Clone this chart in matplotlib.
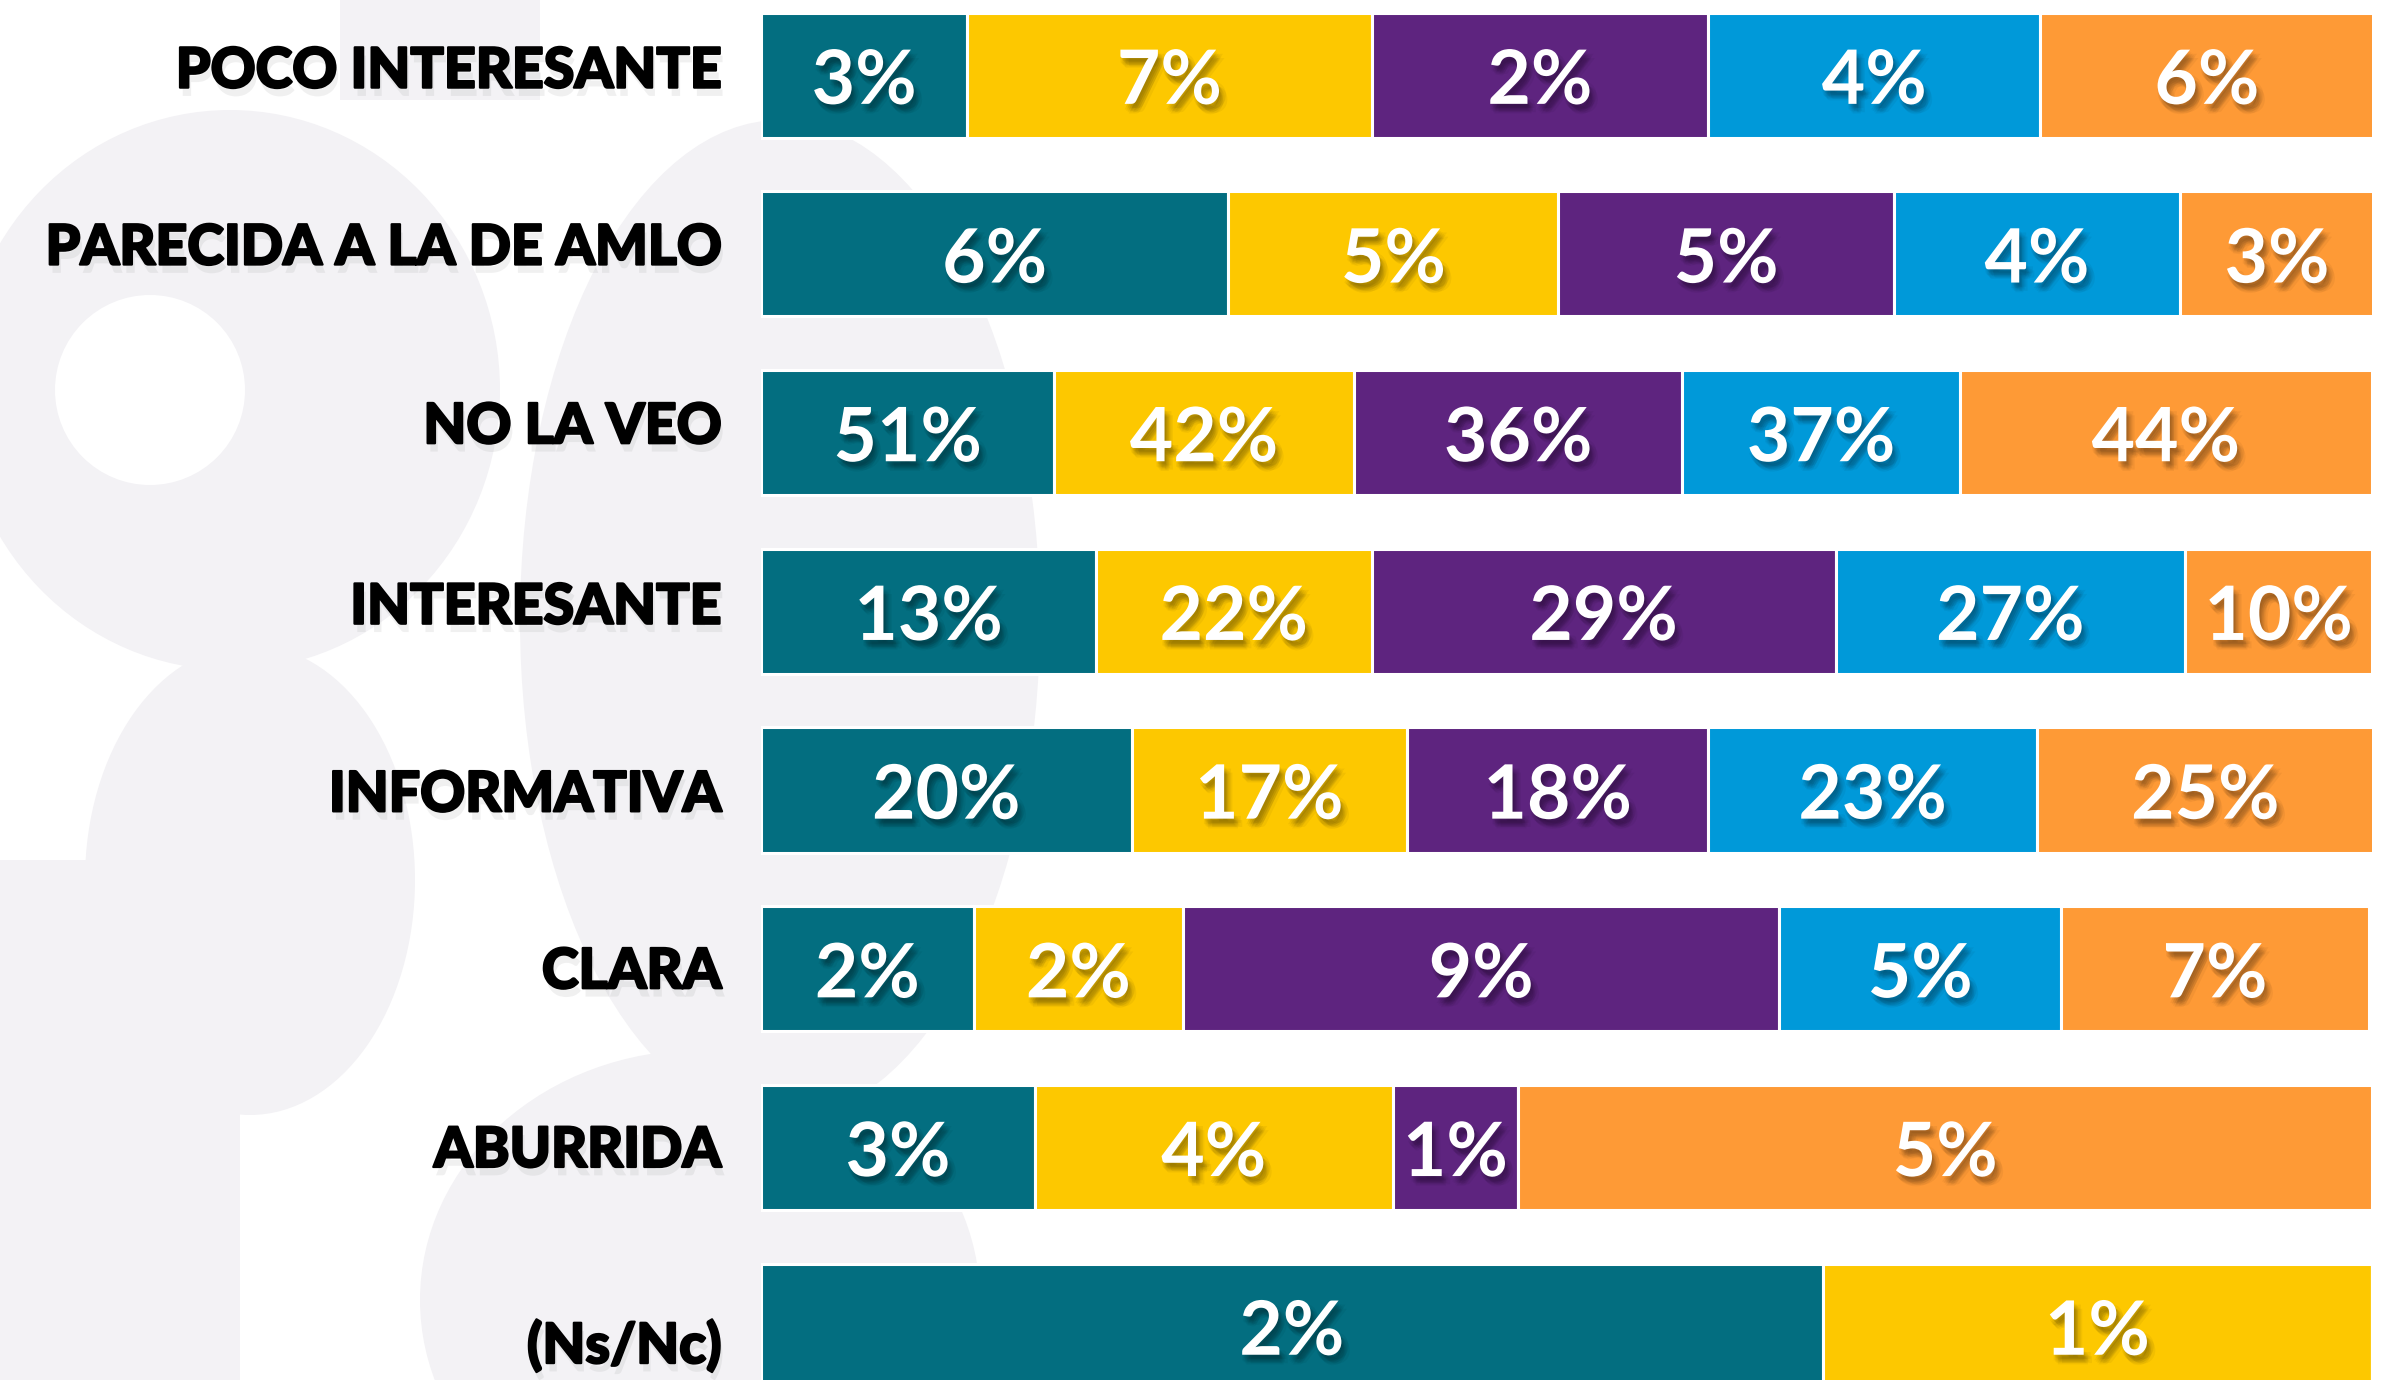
import matplotlib
matplotlib.use("Agg")
import matplotlib.pyplot as plt
import matplotlib.patheffects as pe
from matplotlib.patches import Ellipse, Rectangle, Circle

# ---------------- data ----------------
categories = ["POCO INTERESANTE", "PARECIDA A LA DE AMLO", "NO LA VEO", "INTERESANTE",
              "INFORMATIVA", "CLARA", "ABURRIDA", "(Ns/Nc)"]

# printed percentages per series (None = segment absent)
teal_labels   = [3, 6, 51, 13, 20, 2, 3, 2]
yellow_labels = [7, 5, 42, 22, 17, 2, 4, 1]
purple_labels = [2, 5, 36, 29, 18, 9, 1, None]
blue_labels   = [4, 4, 37, 27, 23, 5, None, None]
orange_labels = [6, 3, 44, 10, 25, 7, 5, None]

# segment shares of each row (rows sum to ~100)
teal_width   = [12.8, 29.0, 18.2, 20.8, 23.0, 13.2, 17.0, 65.9]
yellow_width = [25.1, 20.5, 18.6, 17.1, 17.1, 13.0, 22.2, 34.1]
purple_width = [20.9, 20.8, 20.4, 28.8, 18.7, 37.0, 7.8, 0.0]
blue_width   = [20.6, 17.8, 17.2, 21.7, 20.4, 17.5, 0.0, 0.0]
orange_width = [20.7, 12.0, 25.6, 11.6, 20.9, 19.1, 53.0, 0.0]

series_widths = [teal_width, yellow_width, purple_width, blue_width, orange_width]
series_labels = [teal_labels, yellow_labels, purple_labels, blue_labels, orange_labels]
colors = ["#036E80", "#FDC800", "#5E247F", "#0099D9", "#FE9A36"]

# ---------------- figure ----------------
W, H = 2407, 1380
fig = plt.figure(figsize=(W / 100, H / 100), dpi=100)
fig.patch.set_facecolor("white")

# decorative background
bg = fig.add_axes([0, 0, 1, 1], zorder=-5)
bg.set_xlim(0, W)
bg.set_ylim(H, 0)
bg.axis("off")
deco = "#F3F2F5"
for art in [
    Ellipse((230, 390), 540, 560, color=deco, lw=0),
    Circle((150, 390), 95, color="white", lw=0),
    Ellipse((250, 880), 330, 470, color=deco, lw=0),
    Rectangle((0, 860), 240, 520, color=deco, lw=0),
    Ellipse((780, 620), 520, 1000, color=deco, lw=0),
    Ellipse((700, 1300), 560, 500, color=deco, lw=0),
    Rectangle((340, 0), 200, 100, color=deco, lw=0),
]:
    bg.add_patch(art)

left_px, right_px = 761, 2372
ax = fig.add_axes([left_px / W, 0, (right_px - left_px) / W, 1])
ax.set_facecolor("none")
row0_px, step_px = 75.2, 178.7
ax.set_ylim((H - row0_px) / step_px, -row0_px / step_px)
ax.set_xlim(0, 100)
ax.axis("off")

shadow = [pe.SimplePatchShadow(offset=(dx, dy), shadow_rgbFace="black", alpha=0.045)
          for dx, dy in [(1, -2), (2, -3), (3, -4), (4, -5), (2, -6), (5, -3), (0, -4),
                         (3, -7), (6, -6), (1, -5)]] + [pe.Normal()]

ys = list(range(len(categories)))
left = [0.0] * len(categories)
for widths, labels, col in zip(series_widths, series_labels, colors):
    ax.barh(ys, widths, left=left, height=0.70, color=col, edgecolor="white",
            linewidth=2.2, zorder=2)
    for i, (w, lab) in enumerate(zip(widths, labels)):
        if lab is not None and w > 0:
            ax.text(left[i] + w / 2, i + 0.04, f"{lab}%", ha="center", va="center",
                    color="white", fontsize=54, fontfamily="Lato", fontweight="bold",
                    path_effects=shadow, zorder=3)
    left = [l + w for l, w in zip(left, widths)]

label_fx = [pe.SimplePatchShadow(offset=(2, -6), shadow_rgbFace="#888888", alpha=0.12),
            pe.withStroke(linewidth=1.6, foreground="black")]
label_dy = [-0.02, -0.03, -0.03, -0.02, 0.03, 0.02, 0.02, 0.11]
for i, cat in enumerate(categories):
    ax.text(-0.0245, i + label_dy[i], cat, transform=ax.get_yaxis_transform(),
            ha="right", va="center", fontsize=40, fontfamily="Lato",
            fontweight="black", color="black", path_effects=label_fx, zorder=3)

fig.savefig("out.png", dpi=100, facecolor="white")
